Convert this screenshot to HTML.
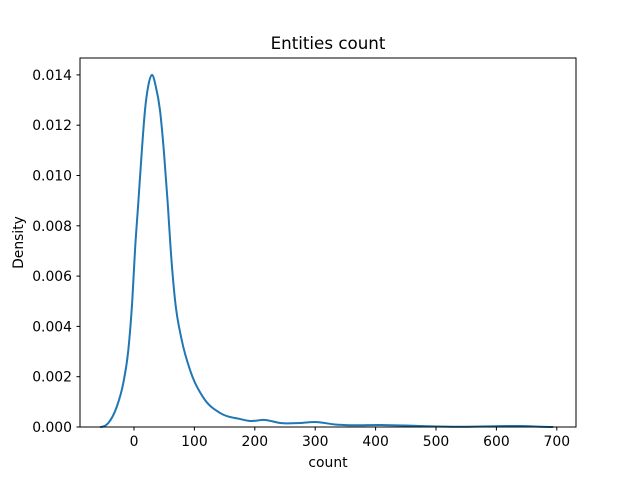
<!DOCTYPE html>
<html><head><meta charset="utf-8"><style>
body{margin:0;background:#fff;}
svg{display:block;font-family:"DejaVu Sans","Liberation Sans",sans-serif;}
</style></head><body>
<svg id="chart" width="640" height="480">
<text x="328" y="49" font-size="16.7" text-anchor="middle">Entities count</text>
<g id="plot"></g>
<rect x="80" y="58" width="496" height="369" fill="none" stroke="#000" stroke-width="1"/>
<text x="328" y="467" font-size="13.9" text-anchor="middle">count</text>
<text transform="translate(23,242.5) rotate(-90)" font-size="13.9" text-anchor="middle">Density</text>
</svg>
<script>
const xTicks = [0,100,200,300,400,500,600,700];
const yTicks = [0,0.002,0.004,0.006,0.008,0.010,0.012,0.014];
const yTickLabels = ["0.000","0.002","0.004","0.006","0.008","0.010","0.012","0.014"];
const countValues = [-56,-42.5,-28.6,-17.7,-9.4,-2.8,1.7,7.1,12.7,18.2,23.5,29.8,36,43,49.7,55.8,60.8,67.9,79,92.7,114.2,142.4,175,192,217,242,275,300,333,358,407,473,540,639,694];
const densityValues = [0,0.00016,0.0008,0.00175,0.00306,0.00505,0.00704,0.00891,0.01089,0.0126,0.01355,0.0140,0.01355,0.0126,0.01089,0.00891,0.00704,0.00505,0.00346,0.00227,0.00119,0.00056,0.00032,0.00024,0.00028,0.00016,0.00016,0.0002,0.0001,0.00007,0.00008,0.00004,0.00001,0.00004,0];

const sx = v => 134 + v*0.604;
const sy = v => 427 - v*25150;
const NS = "http://www.w3.org/2000/svg";
const g = document.getElementById('plot');

xTicks.forEach(t=>{
  const l=document.createElementNS(NS,'line');
  l.setAttribute('x1',sx(t));l.setAttribute('x2',sx(t));l.setAttribute('y1',427);l.setAttribute('y2',430.5);l.setAttribute('stroke','#000');
  
  
  g.appendChild(l);
  const tx=document.createElementNS(NS,'text');
  tx.setAttribute('x',sx(t));tx.setAttribute('y',446);tx.setAttribute('font-size','13.9');tx.setAttribute('text-anchor','middle');
  tx.textContent=t;
  
  
  g.appendChild(tx);
});
yTicks.forEach((t,i)=>{
  const l=document.createElementNS(NS,'line');
  l.setAttribute('x1',76.5);l.setAttribute('x2',80);l.setAttribute('y1',sy(t));l.setAttribute('y2',sy(t));l.setAttribute('stroke','#000');
  
  
  g.appendChild(l);
  const tx=document.createElementNS(NS,'text');
  tx.setAttribute('x',72);tx.setAttribute('y',sy(t)+5);tx.setAttribute('font-size','13.9');tx.setAttribute('text-anchor','end');
  tx.textContent=yTickLabels[i];
  
  
  g.appendChild(tx);
});
const pts = countValues.map((c,i)=>[sx(c),sy(densityValues[i])]);
const n = pts.length;
const m = [];
for(let i=0;i<n;i++){
  if(i===0||i===n-1){m.push(0);continue;}
  const h0=pts[i][0]-pts[i-1][0], h1=pts[i+1][0]-pts[i][0];
  const d0=(pts[i][1]-pts[i-1][1])/h0, d1=(pts[i+1][1]-pts[i][1])/h1;
  m.push((d0*h1+d1*h0)/(h0+h1));
}
let d = 'M'+pts[0][0]+','+pts[0][1];
for(let i=0;i<n-1;i++){
  const h=pts[i+1][0]-pts[i][0];
  const c1x=pts[i][0]+h/3, c1y=Math.min(pts[i][1]+m[i]*h/3,427);
  const c2x=pts[i+1][0]-h/3, c2y=Math.min(pts[i+1][1]-m[i+1]*h/3,427);
  d+=' C'+c1x+','+c1y+' '+c2x+','+c2y+' '+pts[i+1][0]+','+pts[i+1][1];
}
const path=document.createElementNS(NS,'path');
path.setAttribute('d',d);path.setAttribute('fill','none');path.setAttribute('stroke','#1f77b4');path.setAttribute('stroke-width','2');


g.appendChild(path);
</script>
</body></html>
